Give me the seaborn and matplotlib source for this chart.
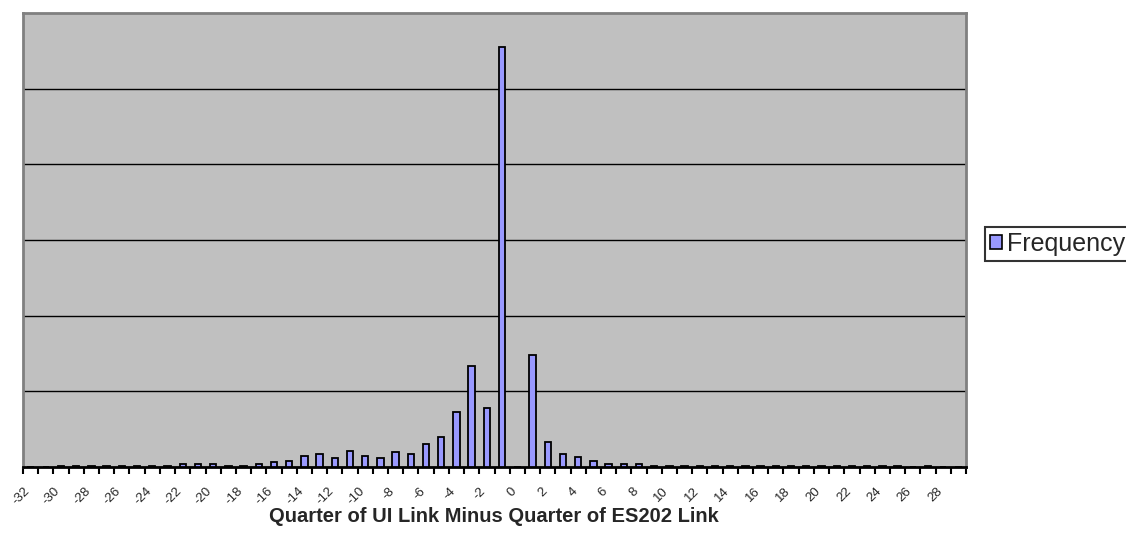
import matplotlib
matplotlib.use("Agg")
import matplotlib.pyplot as plt
import matplotlib.transforms as mtransforms
import seaborn as sns
import pandas as pd
from matplotlib.patches import Patch
from matplotlib.ticker import FixedLocator

# Difference in quarters (UI link minus ES202 link), one bin per quarter
quarter_diff = [-32, -31, -30, -29, -28, -27, -26, -25, -24, -23, -22, -21,
                -20, -19, -18, -17, -16, -15, -14, -13, -12, -11, -10, -9,
                -8, -7, -6, -5, -4, -3, -2, -1, 0, 1, 2, 3, 4, 5, 6, 7,
                8, 9, 10, 11, 12, 13, 14, 15, 16, 17, 18, 19, 20, 21, 22, 23,
                24, 25, 26, 27, 28, 29]

# Frequency (no y scale shown, so relative counts)
frequency = [0, 0, 1, 1, 1, 1, 1, 1, 1, 1, 2, 2,
             2, 1, 1, 2, 4, 5, 9, 10, 7, 13, 9, 7,
             12, 10, 18, 24, 44, 80, 47, 333, 0, 89, 20, 10, 8, 5, 2, 2,
             2, 1, 1, 1, 1, 1, 1, 1, 1, 1, 1, 1, 1, 1, 1, 1,
             1, 1, 0, 1, 0, 0]

# only every second bin gets a label
tick_labels = ["-32", "-30", "-28", "-26", "-24", "-22", "-20", "-18", "-16",
               "-14", "-12", "-10", "-8", "-6", "-4", "-2", "0", "2", "4",
               "6", "8", "10", "12", "14", "16", "18", "20", "22", "24",
               "26", "28"]

BAR_COLOR = "#9999FF"
PLOT_BG = "#C0C0C0"

df = pd.DataFrame({"diff": [str(v) for v in quarter_diff], "Frequency": frequency})

sns.set_style("white")
plt.rcParams["font.family"] = ["Liberation Sans", "DejaVu Sans"]

fig = plt.figure(figsize=(11.26, 5.37), dpi=100)
ax = fig.add_axes([23 / 1126, 1 - 467 / 537, (966 - 23) / 1126, (467 - 13) / 537])
ax.set_facecolor(PLOT_BG)

sns.barplot(data=df, x="diff", y="Frequency", order=df["diff"].tolist(),
            color=BAR_COLOR, edgecolor="black", linewidth=1.3, width=0.42,
            saturation=1, ax=ax, zorder=3)

n = len(quarter_diff)
ax.set_xlim(-0.5, n - 0.5)
ax.set_ylim(0, 360)

# horizontal gridlines, no y labels
ax.set_yticks([60, 120, 180, 240, 300])
ax.set_yticklabels([])
ax.tick_params(axis="y", length=0)
ax.grid(axis="y", color="black", linewidth=1, zorder=1)
ax.set_axisbelow(True)

# labels on every other category, tick marks between categories
label_pos = [i for i in range(n) if i % 2 == 0]
ax.xaxis.set_major_locator(FixedLocator(label_pos))
ax.set_xticklabels(tick_labels, rotation=45, ha="right", va="top",
                   rotation_mode="anchor", fontsize=9.5)
ax.tick_params(axis="x", which="major", length=0, pad=13)
shift = mtransforms.ScaledTranslation(-7 / 100, 0, fig.dpi_scale_trans)
for lbl in ax.get_xticklabels():
    lbl.set_transform(lbl.get_transform() + shift)
ax.xaxis.set_minor_locator(FixedLocator([i - 0.5 for i in range(n + 1)]))
ax.tick_params(axis="x", which="minor", length=5, width=1.5, color="black",
               direction="out", bottom=True)

for side in ["top", "left", "right"]:
    ax.spines[side].set_color("#808080")
    ax.spines[side].set_linewidth(2)
ax.spines["bottom"].set_color("black")
ax.spines["bottom"].set_linewidth(2)

ax.set_ylabel("")
ax.set_xlabel("")
fig.text(494 / 1126, 1 - 516 / 537,
         "Quarter of UI Link Minus Quarter of ES202 Link",
         fontweight="bold", fontsize=14.5, ha="center", va="center")

# legend box runs off the right edge, as in the original export
handle = Patch(facecolor=BAR_COLOR, edgecolor="black", linewidth=1.2)
leg = fig.legend([handle], ["Frequency"], loc="upper left",
                 bbox_to_anchor=(985 / 1126, 1 - 227 / 537),
                 frameon=True, fancybox=False, fontsize=18,
                 handlelength=0.5, handleheight=0.5, handletextpad=0.2,
                 borderpad=0.2, borderaxespad=0)
leg.get_frame().set_edgecolor("black")
leg.get_frame().set_linewidth(1.5)

fig.savefig("out.png", dpi=100)
